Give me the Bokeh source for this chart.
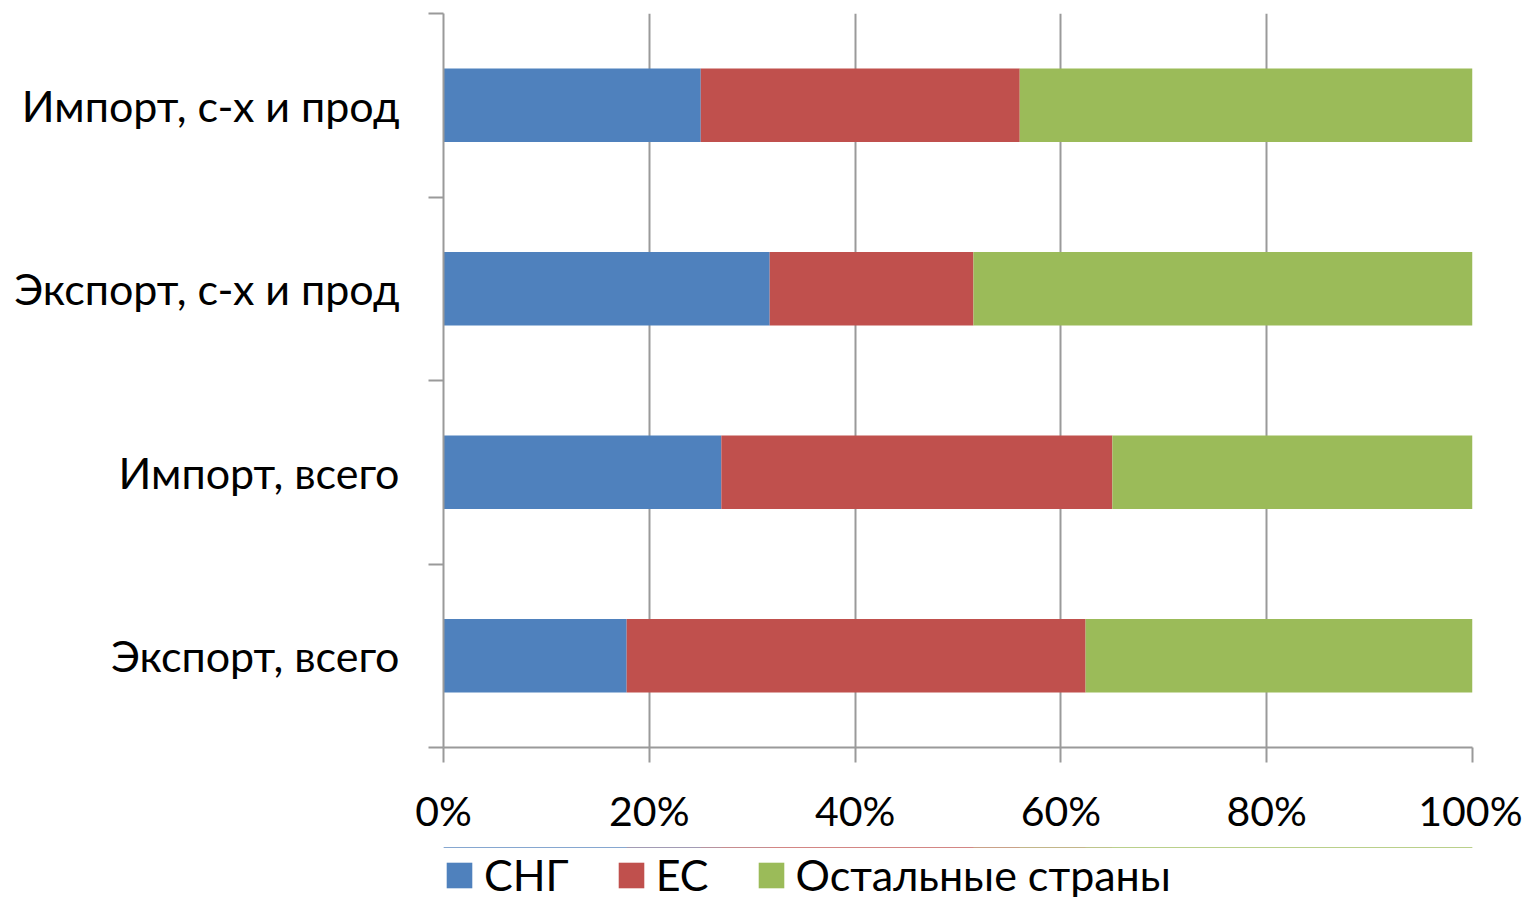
from bokeh.plotting import figure
from bokeh.layouts import column
from bokeh.models import ColumnDataSource, FixedTicker, NumeralTickFormatter, Legend, LegendItem, Range1d
from bokeh.embed import file_html
from bokeh.resources import INLINE

categories = ["Экспорт, всего", "Импорт, всего", "Экспорт, с-х и прод", "Импорт, с-х и прод"]
series = ["СНГ", "ЕС", "Остальные страны"]
cis = [0.178, 0.270, 0.317, 0.250]
eu = [0.446, 0.380, 0.198, 0.310]
other = [0.376, 0.350, 0.485, 0.440]
colors = ["#4F81BD", "#C0504D", "#9BBB59"]
x_ticks = [0, 0.2, 0.4, 0.6, 0.8, 1.0]

FONT = "Lato"
FS = "43px"

ypos = [i + 0.5 for i in range(len(categories))]
src = ColumnDataSource(dict(y=ypos, cis=cis, eu=eu, other=other))

p = figure(frame_width=1029, frame_height=734, min_border_left=443, min_border_right=50,
           min_border_top=13, min_border_bottom=100,
           x_range=Range1d(0, 1), y_range=Range1d(0, len(categories)),
           output_backend="svg", toolbar_location=None)

p.hbar_stack(["cis", "eu", "other"], y="y", height=0.4, color=colors, source=src, line_color=None)

p.outline_line_color = None
p.ygrid.grid_line_color = None
p.xgrid.ticker = FixedTicker(ticks=x_ticks)
p.xgrid.grid_line_color = "#9a9a9a"
p.xgrid.grid_line_width = 2

xa = p.xaxis[0]
xa.ticker = FixedTicker(ticks=x_ticks)
xa.formatter = NumeralTickFormatter(format="0%")
xa.axis_line_color = "#9a9a9a"
xa.axis_line_width = 2
xa.major_tick_line_color = "#9a9a9a"
xa.major_tick_line_width = 2
xa.major_tick_out = 15
xa.major_tick_in = 0
xa.minor_tick_line_color = None
xa.major_label_text_font = FONT
xa.major_label_text_font_size = "41px"
xa.major_label_text_color = "black"
xa.major_label_standoff = 23

ya = p.yaxis[0]
ya.ticker = FixedTicker(ticks=ypos, minor_ticks=list(range(len(categories) + 1)))
ya.major_label_overrides = {y: c for y, c in zip(ypos, categories)}
ya.axis_line_color = "#9a9a9a"
ya.axis_line_width = 2
ya.major_tick_line_color = None
ya.major_tick_out = 0
ya.major_tick_in = 0
ya.minor_tick_line_color = "#9a9a9a"
ya.minor_tick_line_width = 2
ya.minor_tick_out = 15
ya.minor_tick_in = 0
ya.major_label_text_font = FONT
ya.major_label_text_font_size = FS
ya.major_label_text_color = "black"
ya.major_label_standoff = 29

# legend strip below the chart (same data, bars kept outside this strip's view)
p2 = figure(width=1522, height=50, min_border=0, x_axis_type=None, y_axis_type=None,
            x_range=Range1d(0, 1), y_range=Range1d(-3, -2),
            output_backend="svg", toolbar_location=None)
p2.outline_line_color = None
p2.grid.visible = False
lrs = p2.hbar_stack(["cis", "eu", "other"], y="y", height=0.4, color=colors, source=src, line_color=None)

legend = Legend(items=[LegendItem(label=s, renderers=[r]) for s, r in zip(series, lrs)],
                orientation="horizontal", location=(0, -3),
                glyph_width=32, glyph_height=32, label_standoff=9, spacing=46,
                padding=0, margin=0, border_line_color=None, background_fill_alpha=0,
                label_text_font=FONT, label_text_font_size=FS, label_text_color="black")
p2.add_layout(legend, "center")

layout = column(p, p2, spacing=0)
open("out.html", "w").write(file_html(layout, INLINE))
